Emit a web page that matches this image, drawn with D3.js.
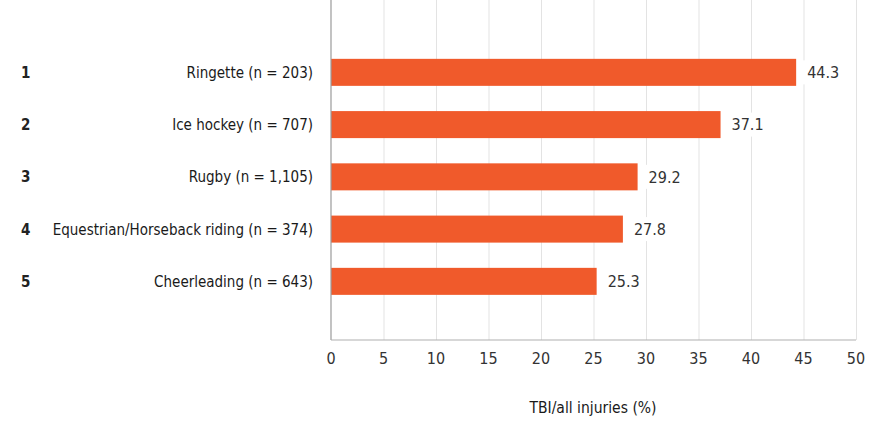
<!DOCTYPE html>
<html>
<head>
<meta charset="utf-8">
<script src="https://cdn.jsdelivr.net/npm/d3@7"></script>
<style>
  body { margin: 0; background: #fff; }
  text { font-family: "DejaVu Sans Condensed", "Liberation Sans Narrow", sans-serif; }
</style>
</head>
<body>
<svg id="chart"></svg>
<script>
// ── Data ──────────────────────────────────────────────────────────────────
const ranks      = ["1", "2", "3", "4", "5"];
const categories = [
    "Ringette (n = 203)",
    "Ice hockey (n = 707)",
    "Rugby (n = 1,105)",
    "Equestrian/Horseback riding (n = 374)",
    "Cheerleading (n = 643)"
];
const values     = [44.3, 37.1, 29.2, 27.8, 25.3];
const xTicks     = [0, 5, 10, 15, 20, 25, 30, 35, 40, 45, 50];
const xTitle     = "TBI/all injuries (%)";

const W = 889, H = 423;
const x0 = 331, x1 = 856, yTop = 0, yBottom = 340;

const svg = d3.select("#chart")
    .attr("width", W)
    .attr("height", H);

const data = categories.map((c, i) => ({ rank: ranks[i], cat: c, value: values[i] }));

// ── Scales ─────────────────────────────────────────────────────────────────
const x = d3.scaleLinear().domain([0, 50]).range([x0, x1]);
const y = d3.scaleBand()
    .domain(categories)
    .range([33.6, 320.1])
    .padding(0.483);

// ── Gridlines ──────────────────────────────────────────────────────────────
svg.append("g")
    .attr("transform", `translate(0,${yBottom})`)
    .call(d3.axisBottom(x).tickValues(xTicks.slice(1)).tickSize(-(yBottom - yTop)).tickFormat(() => ""))
    .call(g => g.select(".domain").remove())
    .call(g => g.selectAll("line").attr("stroke", "#e3e3e3"));

// ── Bars ───────────────────────────────────────────────────────────────────
svg.selectAll("rect.bar")
    .data(data)
    .join("rect")
    .attr("class", "bar")
    .attr("x", x(0))
    .attr("y", d => y(d.cat))
    .attr("width", d => x(d.value) - x(0))
    .attr("height", y.bandwidth())
    .attr("fill", "#f05a2b");

// ── Value labels (white box hides gridlines) ──────────────────────────────
const vl = svg.selectAll("g.vlabel")
    .data(data)
    .join("g")
    .attr("class", "vlabel")
    .attr("transform", d => `translate(${x(d.value) + 11},${y(d.cat) + y.bandwidth() / 2})`);

vl.append("rect")
    .attr("x", -5).attr("y", -12)
    .attr("width", 40).attr("height", 24)
    .attr("fill", "#fff");

vl.append("text")
    .attr("dy", "0.36em")
    .attr("font-size", 16)
    .attr("fill", "#333")
    .text(d => d.value.toFixed(1));

// ── Axes lines ─────────────────────────────────────────────────────────────
svg.append("line")
    .attr("x1", x0).attr("x2", x0)
    .attr("y1", yTop).attr("y2", yBottom)
    .attr("stroke", "#9a9a9a").attr("stroke-width", 1.2);

svg.append("line")
    .attr("x1", x0).attr("x2", x1)
    .attr("y1", yBottom).attr("y2", yBottom)
    .attr("stroke", "#b0b0b0").attr("stroke-width", 1.2);

// ── X tick labels ─────────────────────────────────────────────────────────
svg.selectAll("text.xtick")
    .data(xTicks)
    .join("text")
    .attr("class", "xtick")
    .attr("x", d => x(d))
    .attr("y", 358)
    .attr("dy", "0.36em")
    .attr("text-anchor", "middle")
    .attr("font-size", 16)
    .attr("fill", "#333")
    .text(d => d);

// ── Category labels ───────────────────────────────────────────────────────
svg.selectAll("text.cat")
    .data(data)
    .join("text")
    .attr("class", "cat")
    .attr("x", 313)
    .attr("y", d => y(d.cat) + y.bandwidth() / 2)
    .attr("dy", "0.36em")
    .attr("text-anchor", "end")
    .attr("font-size", 15)
    .attr("fill", "#1a1a1a")
    .text(d => d.cat);

svg.selectAll("text.rank")
    .data(data)
    .join("text")
    .attr("class", "rank")
    .attr("x", 21)
    .attr("y", d => y(d.cat) + y.bandwidth() / 2)
    .attr("dy", "0.36em")
    .attr("font-size", 15)
    .attr("font-weight", "bold")
    .attr("fill", "#222")
    .text(d => d.rank);

// ── X title ───────────────────────────────────────────────────────────────
svg.append("text")
    .attr("x", 593)
    .attr("y", 407)
    .attr("dy", "0.36em")
    .attr("text-anchor", "middle")
    .attr("font-size", 15.5)
    .attr("fill", "#1a1a1a")
    .text(xTitle);
</script>
</body>
</html>
